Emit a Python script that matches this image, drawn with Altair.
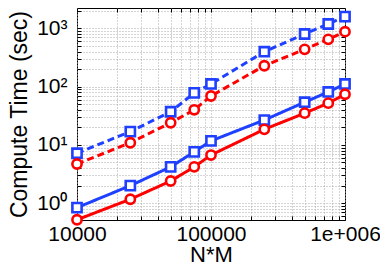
import altair as alt
import pandas as pd

# ---- data ----
x_vals = [10000, 25000, 50000, 75000, 100000, 250000, 500000, 750000, 1000000]
blue_dashed = [7.2, 16.9, 37, 78, 111, 397, 798, 1186, 1585]
red_dashed = [4.7, 10.9, 24, 40, 69, 228, 436, 647, 875]
blue_solid = [0.84, 2.0, 4.2, 7.6, 11.7, 26.7, 54, 81, 111]
red_solid = [0.52, 1.17, 2.4, 4.2, 6.7, 18.5, 35, 52, 74]

series_names = ["blue_dashed", "red_dashed", "blue_solid", "red_solid"]
series_values = [blue_dashed, red_dashed, blue_solid, red_solid]
series_colors = ["#2040ff", "#ff0000", "#2040ff", "#ff0000"]
series_dash = [[7, 4], [7, 4], [1, 0], [1, 0]]
series_shapes = ["square", "circle", "square", "circle"]

# tick / grid positions
x_grid = [m * 10 ** e for e in [4, 5] for m in range(1, 10)] + [1000000]
y_grid = [m * 0.1 for m in [6, 7, 8, 9]] + [m * 10 ** e for e in [0, 1, 2] for m in range(1, 10)] + [1000, 2000]

rows = []
for name, vals in zip(series_names, series_values):
    for xv, yv in zip(x_vals, vals):
        rows.append({"x": xv, "y": yv, "series": name})
df = pd.DataFrame(rows)

FONT = "Liberation Sans"
xs = alt.Scale(type="log", domain=[10000, 1000000], nice=False)
ys = alt.Scale(type="log", domain=[0.515, 2230], nice=False)

x_label_expr = ("datum.value == 10000 ? '10000' : datum.value == 100000 ? '100000' : "
                "datum.value == 1000000 ? '1e+006' : ''")
y_label_expr = ("datum.value == 1 ? '10⁰' : datum.value == 10 ? '10¹' : "
                "datum.value == 100 ? '10²' : datum.value == 1000 ? '10³' : ''")

main_x_axis = alt.Axis(values=x_grid, labelExpr=x_label_expr, grid=True, ticks=False, tickSize=0,
                       domain=False, labelFont=FONT, labelFontSize=21, labelColor="black",
                       labelPadding=3, labelOverlap=False, labelFlush=False, title="N*M",
                       titleFont=FONT, titleFontSize=22, titleFontWeight="normal",
                       titleColor="black", titleBaseline="alphabetic", titleY=41)
main_y_axis = alt.Axis(values=y_grid, labelExpr=y_label_expr, grid=True, ticks=False, tickSize=0,
                       domain=False, labelFont=FONT, labelFontSize=21, labelColor="black",
                       labelPadding=10, labelOverlap=False, labelFlush=False,
                       title="Compute Time (sec)", titleFont=FONT, titleFontSize=23,
                       titleFontWeight="normal", titleColor="black", titlePadding=5,
                       titleY=106)

color_scale = alt.Scale(domain=series_names, range=series_colors)
dash_scale = alt.Scale(domain=series_names, range=series_dash)
shape_scale = alt.Scale(domain=series_names, range=series_shapes)

lines = alt.Chart(df).mark_line(strokeWidth=3).encode(
    x=alt.X("x:Q", scale=xs, axis=main_x_axis),
    y=alt.Y("y:Q", scale=ys, axis=main_y_axis),
    color=alt.Color("series:N", scale=color_scale, legend=None),
    strokeDash=alt.StrokeDash("series:N", scale=dash_scale, legend=None),
    detail="series:N",
)

points = alt.Chart(df).mark_point(strokeWidth=2.6, size=85, opacity=1, fill="white", filled=False).encode(
    x=alt.X("x:Q", scale=xs, axis=None),
    y=alt.Y("y:Q", scale=ys, axis=None),
    stroke=alt.Stroke("series:N", scale=color_scale, legend=None),
    shape=alt.Shape("series:N", scale=shape_scale, legend=None),
    fill=alt.value("white"),
    fillOpacity=alt.value(1),
)


def tick_axis(orient, values):
    return alt.Axis(orient=orient, offset=-4, values=values, tickSize=4, ticks=True,
                    tickColor="black", tickWidth=1, labels=False, domain=False,
                    grid=False, title=None)


ticks_bl = alt.Chart(df).mark_point(opacity=0).encode(
    x=alt.X("x:Q", scale=xs, axis=tick_axis("bottom", x_grid)),
    y=alt.Y("y:Q", scale=ys, axis=tick_axis("left", y_grid)),
)
ticks_tr = alt.Chart(df).mark_point(opacity=0).encode(
    x=alt.X("x:Q", scale=xs, axis=tick_axis("top", x_grid)),
    y=alt.Y("y:Q", scale=ys, axis=tick_axis("right", y_grid)),
)

chart = alt.layer(lines, points, ticks_bl, ticks_tr).resolve_axis(
    x="independent", y="independent"
).properties(
    width=268, height=212,
    autosize=alt.AutoSizeParams(type="none"),
    padding={"left": 69, "top": 0, "right": 35, "bottom": 44},
).configure_view(
    stroke="black", strokeWidth=1
).configure_axis(
    gridColor="#a8a8a8", gridDash=[1, 2], gridWidth=1, gridOpacity=1
)

chart.save("out.html", embed_options={"renderer": "svg", "actions": False})
